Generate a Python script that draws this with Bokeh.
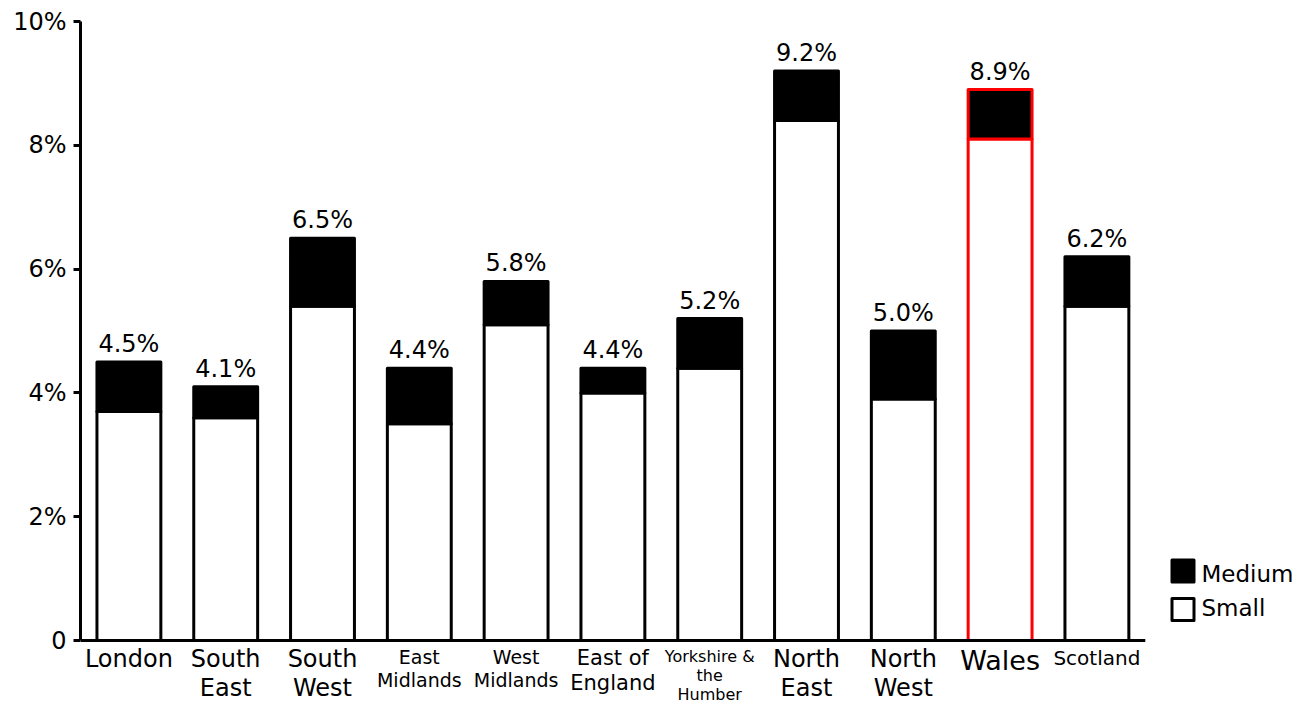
from bokeh.plotting import figure
from bokeh.models import Range1d, FixedTicker, ColumnDataSource
from bokeh.core.properties import value
from bokeh.embed import file_html
from bokeh.resources import INLINE

# Share of businesses by region, split into small and medium (percent)
regions = ["London", "South\nEast", "South\nWest", "East\nMidlands", "West\nMidlands",
           "East of\nEngland", "Yorkshire &\nthe\nHumber", "North\nEast", "North\nWest",
           "Wales", "Scotland"]
small = [3.7, 3.6, 5.4, 3.5, 5.1, 4.0, 4.4, 8.4, 3.9, 8.1, 5.4]
medium = [0.8, 0.5, 1.1, 0.9, 0.7, 0.4, 0.8, 0.8, 1.1, 0.8, 0.8]
y_ticks = [0, 2, 4, 6, 8, 10]
y_tick_labels = ["0", "2%", "4%", "6%", "8%", "10%"]
series_names = ["Medium", "Small"]
highlight = "Wales"

FONT = "DejaVu Sans"
region_font_px = {"London": 24, "South\nEast": 24, "South\nWest": 24,
                  "East\nMidlands": 19, "West\nMidlands": 19, "East of\nEngland": 21,
                  "Yorkshire &\nthe\nHumber": 16, "North\nEast": 24, "North\nWest": 24,
                  "Wales": 27, "Scotland": 20}

# canvas geometry in pixels; the plot frame runs to the bottom edge so the
# region names below the baseline can be drawn as ordinary text glyphs
W, H = 1301, 704
LEFT, TOP = 80, 21
BASE_PX = 640        # pixel row of the zero line
STEP = 96.8          # pixels per category
Y_MAX = 10
UNIT_PX = (BASE_PX - TOP) / Y_MAX


def px_x(px):
    return -0.5 + (px - LEFT) / STEP


def px_y(px):
    return (BASE_PX - px) / UNIT_PX


def dy(px):
    return px / UNIT_PX


xs = list(range(len(regions)))
totals = [round(s + m, 1) for s, m in zip(small, medium)]
edge = ["#ff0000" if r == highlight else "black" for r in regions]

src = ColumnDataSource(dict(
    x=xs, small=small, total=totals, edge=edge,
    label=[f"{t:.1f}%" for t in totals],
    label_y=[t + dy(18) for t in totals],
))

p = figure(width=W, height=H, output_backend="svg", toolbar_location=None,
           x_range=Range1d(-0.5, px_x(W)), y_range=Range1d(px_y(H), Y_MAX),
           min_border_left=LEFT, min_border_right=0,
           min_border_top=TOP, min_border_bottom=0)
p.outline_line_color = None
p.grid.visible = False
p.xaxis.visible = False
p.background_fill_color = "white"
p.border_fill_color = "white"

# stacked bars: small at the bottom, medium on top
p.vbar(x="x", bottom=0, top="small", width=0.66, source=src,
       fill_color="white", line_color="edge", line_width=3, line_join="round")
p.vbar(x="x", bottom="small", top="total", width=0.66, source=src,
       fill_color="black", line_color="edge", line_width=3, line_join="round")

# zero baseline
p.segment(x0=[-0.5], y0=[0], x1=[len(regions) - 0.5], y1=[0],
          line_color="black", line_width=3)

# totals above the bars
p.text(x="x", y="label_y", text="label", source=src,
       text_align="center", text_baseline="middle",
       text_font=value(FONT), text_font_size="24px", text_color="black")

# y axis
ya = p.yaxis[0]
ya.bounds = (0, Y_MAX)
ya.ticker = FixedTicker(ticks=y_ticks)
ya.major_label_overrides = dict(zip(y_ticks, y_tick_labels))
ya.axis_line_width = 3
ya.axis_line_color = "black"
ya.major_tick_line_width = 3
ya.major_tick_line_color = "black"
ya.major_tick_out = 7
ya.major_tick_in = 0
ya.minor_tick_out = 0
ya.minor_tick_in = 0
ya.major_label_standoff = 7
ya.major_label_text_font = FONT
ya.major_label_text_font_size = "24px"
ya.major_label_text_color = "black"

# region names under the bars
nx, ny, nt, nf = [], [], [], []
for i, name in enumerate(regions):
    fs = region_font_px[name]
    centre = 650 + 0.365 * fs
    for k, line in enumerate(name.split("\n")):
        nx.append(i)
        ny.append(px_y(centre + k * 1.2 * fs))
        nt.append(line)
        nf.append(f"{fs}px")
p.text(x=nx, y=ny, text=nt, text_font_size=nf,
       text_align="center", text_baseline="middle",
       text_font=value(FONT), text_color="black")

# legend
p.scatter(x=[px_x(1182.5)] * 2, y=[px_y(570.5), px_y(609)], marker="square",
          size=22, fill_color=["black", "white"], line_color="black",
          line_width=3, line_join="round")
p.text(x=[px_x(1201)] * 2, y=[px_y(573), px_y(607)], text=series_names,
       text_align="left", text_baseline="middle",
       text_font=value(FONT), text_font_size="23px", text_color="black")

open("out.html", "w").write(file_html(p, INLINE))
